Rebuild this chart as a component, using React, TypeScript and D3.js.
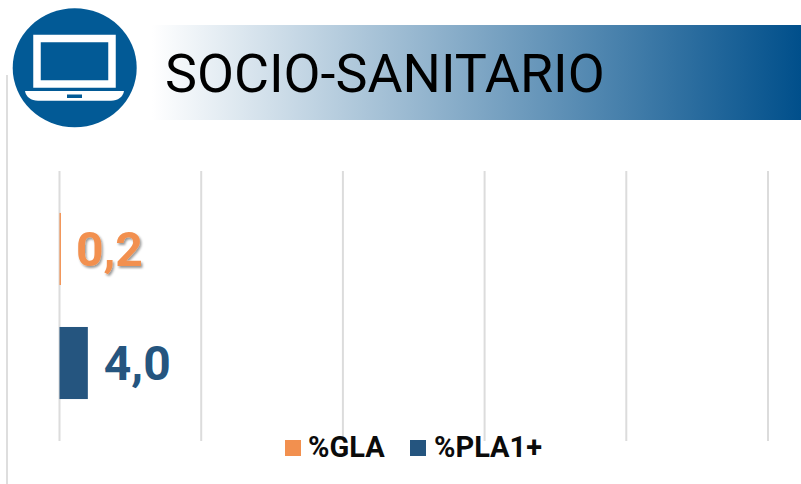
import * as React from 'react';
import * as d3 from 'd3';

const categories = ['%GLA', '%PLA1+'];
const values = [0.2, 4.0];
const valueLabels = ['0,2', '4,0'];
const colors = ['#f2904f', '#25557f'];
const xTicks = [0, 20, 40, 60, 80, 100];

const width = 801;
const height = 484;
const font = 'Roboto, sans-serif';

export default function App() {
    const xScale = d3.scaleLinear().domain([0, 100]).range([59.5, 768]);
    const yScale = d3.scaleBand().domain(categories).range([171, 441]).paddingInner(0.368).paddingOuter(0.368);

    return (
        <svg width={width} height={height} style={{ position: 'absolute', left: 0, top: 0, background: '#fff' }}>
            <defs>
                <linearGradient id="banner" x1="0" x2="1" y1="0" y2="0">
                    <stop offset="0" stopColor="#ffffff" />
                    <stop offset="1" stopColor="#004f8b" />
                </linearGradient>
                <filter id="labelShadow" x="-20%" y="-20%" width="150%" height="150%">
                    <feDropShadow dx="1.5" dy="2" stdDeviation="1.2" floodColor="#000" floodOpacity="0.4" />
                </filter>
            </defs>

            <line x1={7} x2={7} y1={75} y2={484} stroke="#dedede" strokeWidth={2} />
            <rect x={152} y={25} width={649} height={95} fill="url(#banner)" />
            <text x={165} y={91.5} fontFamily={font} fontSize={53.8} fill="#000">SOCIO-SANITARIO</text>

            <ellipse cx={74.7} cy={67.7} rx={62} ry={59.5} fill="#025a96" />
            <rect x={37} y={38.5} width={75} height={45.5} fill="none" stroke="#fff" strokeWidth={7.5} />
            <path d="M25,91 H124 C123,97 118,100.7 111,100.7 H38 C31,100.7 26,97 25,91 Z" fill="#fff" />
            <rect x={67} y={94.5} width={15} height={3.5} fill="#025a96" />

            {xTicks.map(t => (
                <line key={t} x1={xScale(t)} x2={xScale(t)} y1={171} y2={441} stroke="#dcdcdc" strokeWidth={2} />
            ))}

            {categories.map((c, i) => (
                <g key={c}>
                    <rect x={xScale(0)} y={yScale(c)} width={xScale(values[i]) - xScale(0)} height={yScale.bandwidth()} fill={colors[i]} />
                    <text
                        x={xScale(values[i]) + (i === 0 ? 15 : 16)}
                        y={yScale(c)! + yScale.bandwidth() / 2 + 17}
                        fontFamily={font}
                        fontSize={48}
                        fontWeight={700}
                        fill={colors[i]}
                        filter={i === 0 ? 'url(#labelShadow)' : undefined}
                    >
                        {valueLabels[i]}
                    </text>
                </g>
            ))}

            <rect x={285} y={440} width={16} height={16} fill={colors[0]} />
            <text x={308} y={456.5} fontFamily={font} fontSize={29} fontWeight={700} fill="#0b0b0b">{categories[0]}</text>
            <rect x={410} y={440} width={16} height={16} fill={colors[1]} />
            <text x={434} y={456.5} fontFamily={font} fontSize={29} fontWeight={700} fill="#0b0b0b">{categories[1]}</text>
        </svg>
    );
}
